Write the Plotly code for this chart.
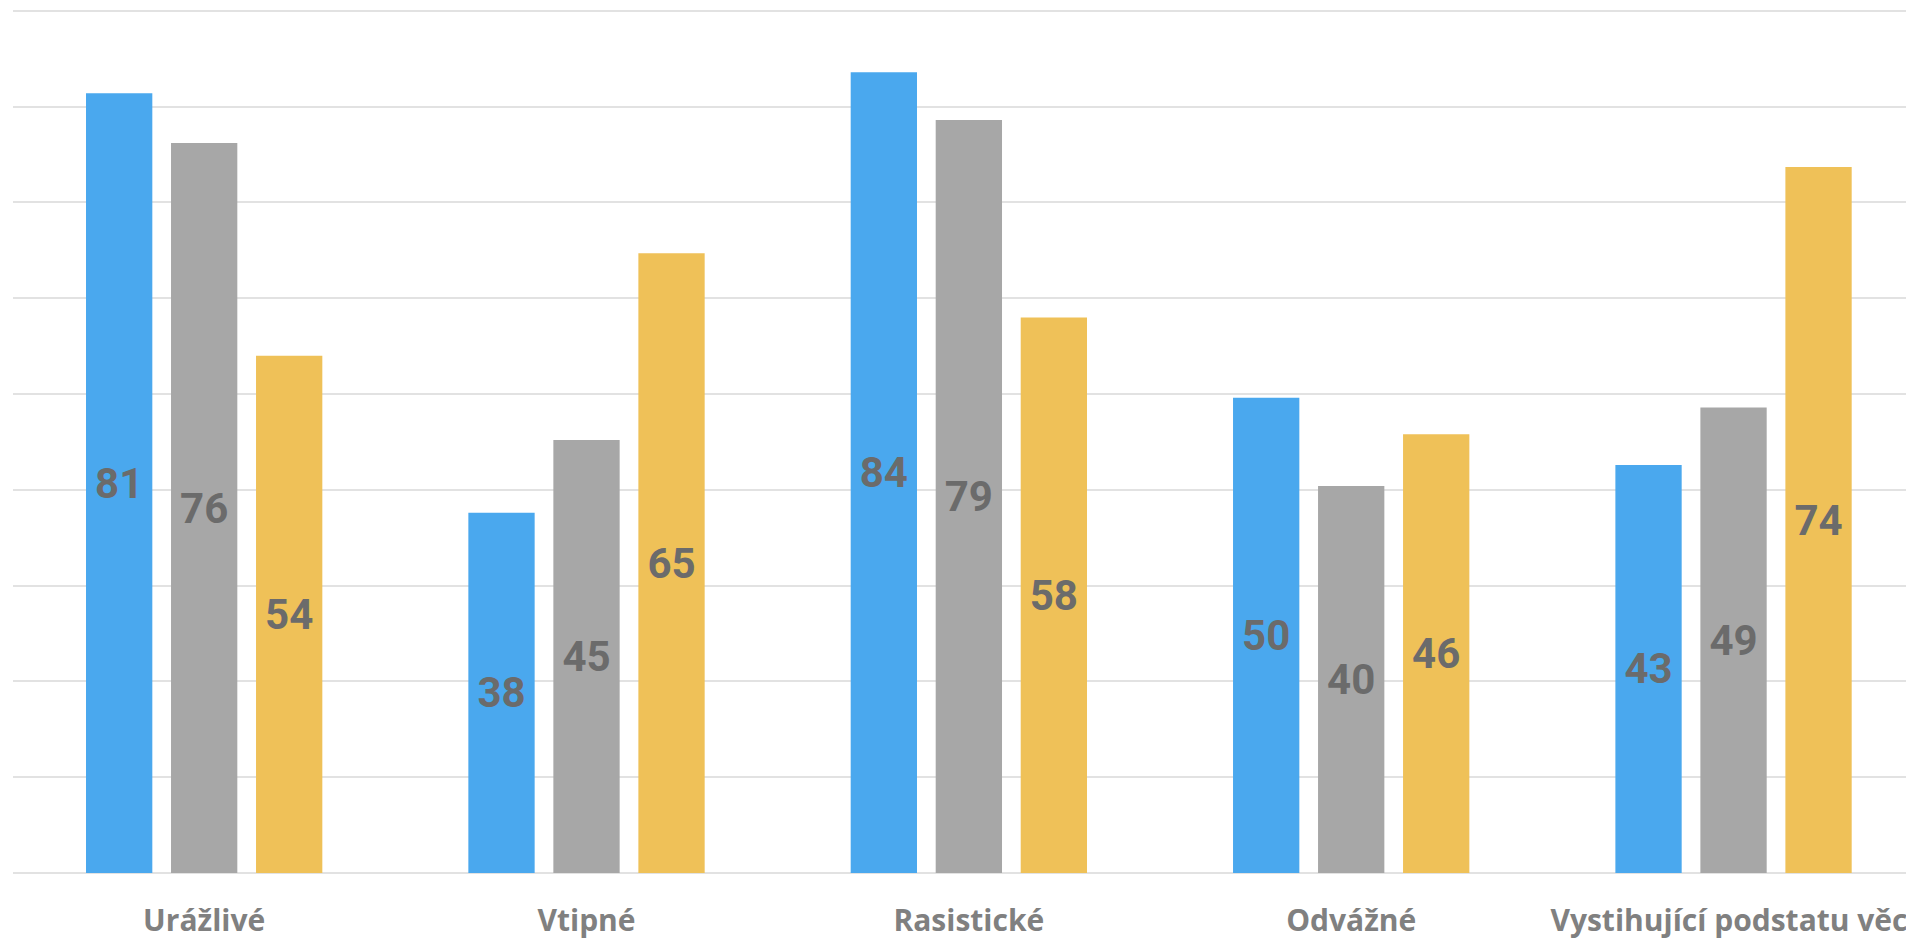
import plotly.graph_objects as go

categories = ["Urážlivé", "Vtipné", "Rasistické", "Odvážné", "Vystihující podstatu věci"]
series_a = [81.4, 37.6, 83.6, 49.6, 42.6]
series_b = [76.2, 45.2, 78.6, 40.4, 48.6]
series_c = [54.0, 64.7, 58.0, 45.8, 73.7]

colors = ["#4aa8ee", "#a7a7a7", "#efc158"]

fig = go.Figure()
for vals, col in zip([series_a, series_b, series_c], colors):
    fig.add_trace(go.Bar(
        x=categories, y=vals,
        marker=dict(color=col, line=dict(width=0)),
        texttemplate="%{y:.0f}",
        textposition="inside",
        insidetextanchor="middle",
        textangle=0,
        textfont=dict(family="Roboto", size=42, color="#6b6b6b", weight="bold"),
        hoverinfo="skip",
        showlegend=False,
    ))

fig.update_layout(
    width=1906, height=932,
    margin=dict(l=5, r=0, t=0, b=67, pad=0, autoexpand=False),
    paper_bgcolor="white", plot_bgcolor="white",
    barmode="group", bargap=0.333, bargroupgap=0.22,
    xaxis=dict(
        range=[-0.5, 4.472], tickangle=0, showgrid=False, zeroline=False,
        showline=False, ticks="", automargin=False,
        tickfont=dict(family="Open Sans", size=30, color="#808080", weight="bold"),
        ticklabelstandoff=27,
    ),
    yaxis=dict(
        range=[0, 90.3], dtick=10, tick0=0, showticklabels=False,
        showgrid=True, gridcolor="#e2e2e2", gridwidth=2,
        zeroline=True, zerolinecolor="#e2e2e2", zerolinewidth=2,
        showline=False, ticks="", automargin=False,
    ),
)

fig.write_html("out.html")
